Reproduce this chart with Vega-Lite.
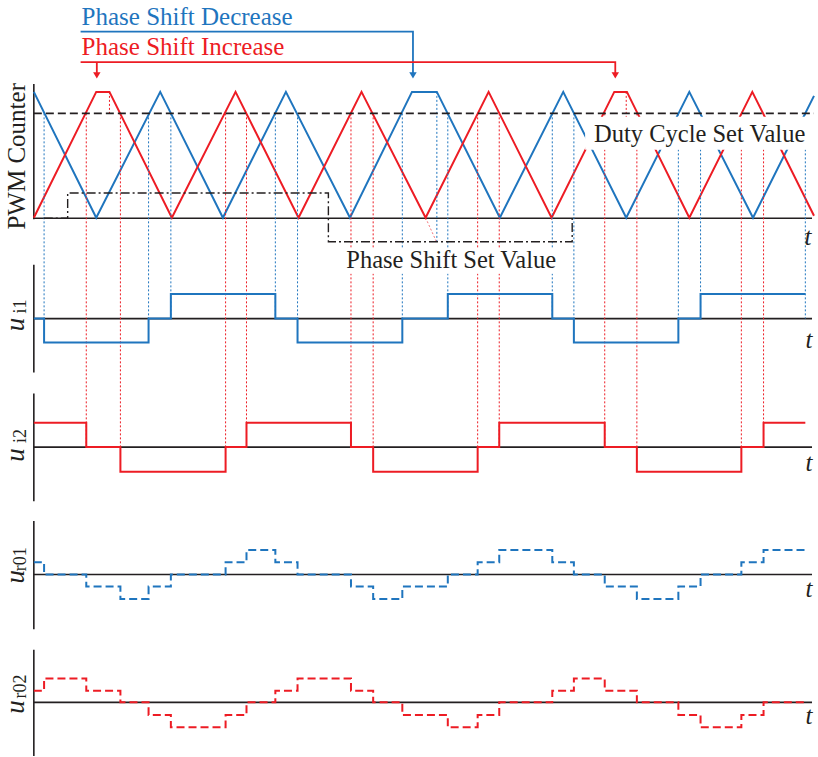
{
  "$schema": "https://vega.github.io/schema/vega-lite/v6.json",
  "width": 818,
  "height": 757,
  "autosize": {"type": "fit", "contains": "padding"},
  "padding": 0,
  "background": "white",
  "config": {"view": {"stroke": null}},
  "encoding": {
    "x": {"field": "x", "type": "quantitative", "scale": {"domain": [0, 818], "nice": false, "zero": false}, "axis": null},
    "y": {"field": "y", "type": "quantitative", "scale": {"domain": [0, 757], "nice": false, "zero": false, "reverse": true}, "axis": null}
  },
  "layer": [
    {
      "data": {"values": [
        {"x": 34, "y": 84, "y2": 219.5},
        {"x": 34, "y": 265, "y2": 373},
        {"x": 34, "y": 394, "y2": 502},
        {"x": 34, "y": 521.7, "y2": 630},
        {"x": 34, "y": 650.7, "y2": 757}
      ]},
      "mark": {"type": "rule", "color": "#231f20", "strokeWidth": 1.6},
      "encoding": {"y2": {"field": "y2"}}
    },
    {
      "data": {"values": [
        {"x": 34, "x2": 816, "y": 218.5},
        {"x": 34, "x2": 816, "y": 319},
        {"x": 34, "x2": 816, "y": 447.7},
        {"x": 34, "x2": 816, "y": 575.3},
        {"x": 34, "x2": 816, "y": 703.3}
      ]},
      "mark": {"type": "rule", "color": "#231f20", "strokeWidth": 1.6},
      "encoding": {"x2": {"field": "x2"}}
    },
    {
      "data": {"values": [
        {"s": "b", "x": 34, "y": 92}, {"s": "b", "x": 96.7, "y": 218}, {"s": "b", "x": 161, "y": 92},
        {"s": "b", "x": 224, "y": 218}, {"s": "b", "x": 287.3, "y": 92}, {"s": "b", "x": 351.7, "y": 218},
        {"s": "b", "x": 414, "y": 92}, {"s": "b", "x": 439, "y": 92}, {"s": "b", "x": 502.3, "y": 218},
        {"s": "b", "x": 566, "y": 92}, {"s": "b", "x": 629.3, "y": 218}, {"s": "b", "x": 692.7, "y": 92},
        {"s": "b", "x": 756.7, "y": 218}, {"s": "b", "x": 818, "y": 96},
        {"s": "r", "x": 34, "y": 218}, {"s": "r", "x": 96.7, "y": 92}, {"s": "r", "x": 110, "y": 92},
        {"s": "r", "x": 172.7, "y": 218}, {"s": "r", "x": 236.7, "y": 92}, {"s": "r", "x": 300, "y": 218},
        {"s": "r", "x": 363.3, "y": 92}, {"s": "r", "x": 427.7, "y": 218}, {"s": "r", "x": 491, "y": 92},
        {"s": "r", "x": 554.3, "y": 218}, {"s": "r", "x": 617.3, "y": 92}, {"s": "r", "x": 630, "y": 92},
        {"s": "r", "x": 692.7, "y": 218}, {"s": "r", "x": 756, "y": 92}, {"s": "r", "x": 818, "y": 216}
      ]},
      "mark": {"type": "line", "strokeWidth": 2},
      "encoding": {"color": {"field": "s", "type": "nominal", "scale": {"domain": ["b", "r"], "range": ["#1f75be", "#ed1c24"]}, "legend": null}}
    },
    {
      "data": {"values": [
        {"s": "b", "x": 44.3, "y": 113.5, "y2": 319}, {"s": "b", "x": 149.3, "y": 113.5, "y2": 319},
        {"s": "b", "x": 171.7, "y": 113.5, "y2": 319}, {"s": "b", "x": 276.7, "y": 113.5, "y2": 319},
        {"s": "b", "x": 299, "y": 113.5, "y2": 319}, {"s": "b", "x": 404.3, "y": 113.5, "y2": 319},
        {"s": "b", "x": 450, "y": 113.5, "y2": 319}, {"s": "b", "x": 555, "y": 113.5, "y2": 319},
        {"s": "b", "x": 576.7, "y": 113.5, "y2": 319}, {"s": "b", "x": 681.7, "y": 113.5, "y2": 319},
        {"s": "b", "x": 704, "y": 113.5, "y2": 319}, {"s": "b", "x": 809.3, "y": 113.5, "y2": 319},
        {"s": "b", "x": 439, "y": 92, "y2": 243},
        {"s": "r", "x": 86.7, "y": 113.5, "y2": 447.7}, {"s": "r", "x": 121, "y": 113.5, "y2": 447.7},
        {"s": "r", "x": 226.7, "y": 113.5, "y2": 447.7}, {"s": "r", "x": 247.7, "y": 113.5, "y2": 447.7},
        {"s": "r", "x": 352.7, "y": 113.5, "y2": 447.7}, {"s": "r", "x": 375, "y": 113.5, "y2": 447.7},
        {"s": "r", "x": 480, "y": 113.5, "y2": 447.7}, {"s": "r", "x": 501.7, "y": 113.5, "y2": 447.7},
        {"s": "r", "x": 607.7, "y": 113.5, "y2": 447.7}, {"s": "r", "x": 640, "y": 113.5, "y2": 447.7},
        {"s": "r", "x": 745, "y": 113.5, "y2": 447.7}, {"s": "r", "x": 767.3, "y": 113.5, "y2": 447.7},
        {"s": "r", "x": 110, "y": 92, "y2": 113.5}, {"s": "r", "x": 629.3, "y": 92, "y2": 125}
      ]},
      "mark": {"type": "rule", "strokeWidth": 1, "strokeDash": [2, 2]},
      "encoding": {"y2": {"field": "y2"}, "color": {"field": "s", "type": "nominal", "legend": null}}
    },
    {
      "data": {"values": [{"x": 427.7, "y": 218, "x2": 439, "y2": 243}]},
      "mark": {"type": "rule", "strokeWidth": 1, "strokeDash": [2, 2], "color": "#ed1c24", "opacity": 0.6},
      "encoding": {"x2": {"field": "x2"}, "y2": {"field": "y2"}}
    },
    {
      "data": {"values": [{"x": 34, "x2": 818, "y": 113.5}]},
      "mark": {"type": "rule", "color": "#231f20", "strokeWidth": 1.6, "strokeDash": [8, 4]},
      "encoding": {"x2": {"field": "x2"}}
    },
    {
      "data": {"values": [
        {"i": 0, "x": 44, "y": 218.5}, {"i": 1, "x": 68, "y": 218.5}, {"i": 2, "x": 68, "y": 193.3},
        {"i": 3, "x": 330, "y": 193.3}, {"i": 4, "x": 330, "y": 242}, {"i": 5, "x": 575, "y": 242},
        {"i": 6, "x": 575, "y": 218.5}
      ]},
      "mark": {"type": "line", "color": "#231f20", "strokeWidth": 1.4, "strokeDash": [9, 3, 2, 3]},
      "encoding": {"order": {"field": "i", "type": "quantitative"}}
    },
    {
      "data": {"values": [
        {"x": 588, "x2": 818, "y": 117, "y2": 150},
        {"x": 344, "x2": 566, "y": 249, "y2": 274}
      ]},
      "mark": {"type": "rect", "color": "white"},
      "encoding": {"x2": {"field": "x2"}, "y2": {"field": "y2"}}
    },
    {
      "data": {"values": [
        {"x": 597, "y": 141.7, "t": "Duty Cycle Set Value"},
        {"x": 348, "y": 268.3, "t": "Phase Shift Set Value"}
      ]},
      "mark": {"type": "text", "font": "Liberation Serif", "fontSize": 24.5, "align": "left", "baseline": "alphabetic", "color": "#231f20"},
      "encoding": {"text": {"field": "t"}}
    },
    {
      "data": {"values": [
        {"x": 34, "y": 319}, {"x": 44.3, "y": 343}, {"x": 149.3, "y": 319}, {"x": 171.7, "y": 294.3},
        {"x": 276.7, "y": 319}, {"x": 299, "y": 343}, {"x": 404.3, "y": 319}, {"x": 450, "y": 294.3},
        {"x": 555, "y": 319}, {"x": 576.7, "y": 343}, {"x": 681.7, "y": 319}, {"x": 704, "y": 294.3},
        {"x": 809.3, "y": 294.3}
      ]},
      "mark": {"type": "line", "interpolate": "step-after", "color": "#1f75be", "strokeWidth": 2}
    },
    {
      "data": {"values": [
        {"x": 34, "y": 423.3}, {"x": 86.7, "y": 447.7}, {"x": 121, "y": 472.3}, {"x": 226.7, "y": 447.7},
        {"x": 247.7, "y": 423.3}, {"x": 352.7, "y": 447.7}, {"x": 375, "y": 472.3}, {"x": 480, "y": 447.7},
        {"x": 501.7, "y": 423.3}, {"x": 607.7, "y": 447.7}, {"x": 640, "y": 472.3}, {"x": 745, "y": 447.7},
        {"x": 767.3, "y": 423.3}, {"x": 809.3, "y": 423.3}
      ]},
      "mark": {"type": "line", "interpolate": "step-after", "color": "#ed1c24", "strokeWidth": 2}
    },
    {
      "data": {"values": [
        {"x": 34, "y": 563}, {"x": 44.3, "y": 575.3}, {"x": 86.7, "y": 587.3}, {"x": 121, "y": 599.7},
        {"x": 149.3, "y": 587.3}, {"x": 171.7, "y": 575.3}, {"x": 226.7, "y": 563}, {"x": 247.7, "y": 550.7},
        {"x": 276.7, "y": 563}, {"x": 299, "y": 575.3}, {"x": 352.7, "y": 587.3}, {"x": 375, "y": 599.7},
        {"x": 404.3, "y": 587.3}, {"x": 450, "y": 575.3}, {"x": 480, "y": 563}, {"x": 501.7, "y": 550.7},
        {"x": 555, "y": 563}, {"x": 576.7, "y": 575.3}, {"x": 607.7, "y": 587.3}, {"x": 640, "y": 599.7},
        {"x": 681.7, "y": 587.3}, {"x": 704, "y": 575.3}, {"x": 745, "y": 563}, {"x": 767.3, "y": 550.7},
        {"x": 809.3, "y": 550.7}
      ]},
      "mark": {"type": "line", "interpolate": "step-after", "color": "#1f75be", "strokeWidth": 2, "strokeDash": [8, 4]}
    },
    {
      "data": {"values": [
        {"x": 34, "y": 691.7}, {"x": 44.3, "y": 679.3}, {"x": 86.7, "y": 691.7}, {"x": 121, "y": 703.3},
        {"x": 149.3, "y": 716}, {"x": 171.7, "y": 728.3}, {"x": 226.7, "y": 716}, {"x": 247.7, "y": 703.3},
        {"x": 276.7, "y": 691.7}, {"x": 299, "y": 679.3}, {"x": 352.7, "y": 691.7}, {"x": 375, "y": 703.3},
        {"x": 404.3, "y": 716}, {"x": 450, "y": 728.3}, {"x": 480, "y": 716}, {"x": 501.7, "y": 703.3},
        {"x": 555, "y": 691.7}, {"x": 576.7, "y": 679.3}, {"x": 607.7, "y": 691.7}, {"x": 640, "y": 703.3},
        {"x": 681.7, "y": 716}, {"x": 704, "y": 728.3}, {"x": 745, "y": 716}, {"x": 767.3, "y": 703.3},
        {"x": 809.3, "y": 703.3}
      ]},
      "mark": {"type": "line", "interpolate": "step-after", "color": "#ed1c24", "strokeWidth": 2, "strokeDash": [8, 4]}
    },
    {
      "data": {"values": [
        {"s": "b", "g": "b1", "i": 0, "x": 81, "y": 31.7}, {"s": "b", "g": "b1", "i": 1, "x": 415, "y": 31.7},
        {"s": "b", "g": "b1", "i": 2, "x": 415, "y": 73},
        {"s": "r", "g": "r1", "i": 0, "x": 81, "y": 62.3}, {"s": "r", "g": "r1", "i": 1, "x": 618.3, "y": 62.3},
        {"s": "r", "g": "r1", "i": 2, "x": 618.3, "y": 73},
        {"s": "r", "g": "r2", "i": 0, "x": 97.3, "y": 62.3}, {"s": "r", "g": "r2", "i": 1, "x": 97.3, "y": 73}
      ]},
      "mark": {"type": "line", "strokeWidth": 1.8},
      "encoding": {
        "color": {"field": "s", "type": "nominal", "legend": null},
        "detail": {"field": "g"},
        "order": {"field": "i", "type": "quantitative"}
      }
    },
    {
      "data": {"values": [
        {"s": "b", "x": 415, "y": 75.5}, {"s": "r", "x": 618.3, "y": 75.5}, {"s": "r", "x": 97.3, "y": 75.5}
      ]},
      "mark": {"type": "point", "shape": "triangle-down", "filled": true, "size": 55, "opacity": 1},
      "encoding": {"color": {"field": "s", "type": "nominal", "legend": null}}
    },
    {
      "data": {"values": [
        {"s": "b", "x": 82, "y": 25, "t": "Phase Shift Decrease"},
        {"s": "r", "x": 82, "y": 55, "t": "Phase Shift Increase"}
      ]},
      "mark": {"type": "text", "font": "Liberation Serif", "fontSize": 25, "align": "left", "baseline": "alphabetic"},
      "encoding": {"text": {"field": "t"}, "color": {"field": "s", "type": "nominal", "legend": null}}
    },
    {
      "data": {"values": [{"x": 25, "y": 156.5, "t": "PWM Counter"}]},
      "mark": {"type": "text", "font": "Liberation Serif", "fontSize": 25, "angle": 270, "align": "center", "baseline": "alphabetic", "color": "#231f20"},
      "encoding": {"text": {"field": "t"}}
    },
    {
      "data": {"values": [
        {"x": 16, "y": 325, "t": "u"}, {"x": 16, "y": 455.5, "t": "u"},
        {"x": 16, "y": 577.5, "t": "u"}, {"x": 16, "y": 708, "t": "u"}
      ]},
      "mark": {"type": "text", "font": "Liberation Serif", "fontStyle": "italic", "fontSize": 27, "angle": 270, "align": "center", "baseline": "middle", "color": "#231f20"},
      "encoding": {"text": {"field": "t"}}
    },
    {
      "data": {"values": [
        {"x": 21.5, "y": 307, "t": "i1"}, {"x": 21.5, "y": 436.5, "t": "i2"},
        {"x": 21.5, "y": 560, "t": "r01"}, {"x": 21.5, "y": 687.5, "t": "r02"}
      ]},
      "mark": {"type": "text", "font": "Liberation Serif", "fontSize": 18, "angle": 270, "align": "center", "baseline": "middle", "color": "#231f20"},
      "encoding": {"text": {"field": "t"}}
    },
    {
      "data": {"values": [
        {"x": 812, "y": 245, "t": "t"}, {"x": 813, "y": 348, "t": "t"}, {"x": 813, "y": 471.7, "t": "t"},
        {"x": 813, "y": 598, "t": "t"}, {"x": 813, "y": 725, "t": "t"}
      ]},
      "mark": {"type": "text", "font": "Liberation Serif", "fontStyle": "italic", "fontSize": 25, "align": "center", "baseline": "alphabetic", "color": "#231f20"},
      "encoding": {"text": {"field": "t"}}
    }
  ]
}
